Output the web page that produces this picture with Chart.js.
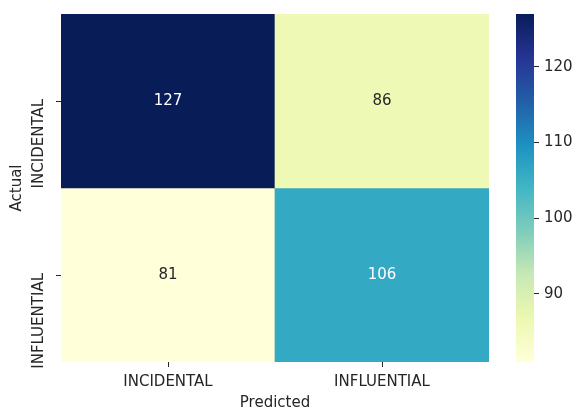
<!DOCTYPE html>
<html>
<head>
<meta charset="utf-8">
<script src="https://cdn.jsdelivr.net/npm/chart.js@4.4.1/dist/chart.umd.min.js"></script>
<style>
  html, body { margin: 0; padding: 0; background: #fff; }
  #wrap { position: relative; width: 576px; height: 412px; }
  #heat { position: absolute; left: 0; top: 0; width: 500px; height: 412px; }
  #bar { position: absolute; left: 500px; top: 0; width: 76px; height: 412px; }
</style>
</head>
<body>
<div id="wrap">
  <div id="heat"><canvas id="heatCanvas"></canvas></div>
  <div id="bar"><canvas id="barCanvas"></canvas></div>
</div>
<script>
const predictedLabels = ['INCIDENTAL', 'INFLUENTIAL'];
const actualLabels = ['INCIDENTAL', 'INFLUENTIAL'];
const countsIncidental = [127, 86];
const countsInfluential = [81, 106];
const colorbarTicks = [90, 100, 110, 120];

const counts = [countsIncidental, countsInfluential];
const vmin = Math.min(...counts.flat());
const vmax = Math.max(...counts.flat());

// YlGnBu
const cmap = ['#ffffd9', '#edf8b1', '#c7e9b4', '#7fcdbb', '#41b6c4', '#1d91c0', '#225ea8', '#253494', '#081d58'];

const hexToRgb = h => [1, 3, 5].map(i => parseInt(h.slice(i, i + 2), 16));

const colorRgb = v => {
    const t = Math.max(0, Math.min(1, (v - vmin) / (vmax - vmin))) * (cmap.length - 1);
    const i = Math.min(Math.floor(t), cmap.length - 2);
    const f = t - i;
    const a = hexToRgb(cmap[i]), b = hexToRgb(cmap[i + 1]);
    return a.map((c, k) => Math.round(c + (b[k] - c) * f));
};
const colorFor = v => `rgb(${colorRgb(v).join(',')})`;

const textColorFor = v => {
    const lum = colorRgb(v).map(c => {
        c /= 255;
        return c <= 0.03928 ? c / 12.92 : Math.pow((c + 0.055) / 1.055, 2.4);
    });
    const l = 0.2126 * lum[0] + 0.7152 * lum[1] + 0.0722 * lum[2];
    return l > 0.408 ? '#262626' : '#ffffff';
};

Chart.defaults.font.family = 'DejaVu Sans';
Chart.defaults.font.size = 15;
Chart.defaults.color = '#262626';

const cellLabels = {
    id: 'cellLabels',
    afterDatasetsDraw(chart) {
        const ctx = chart.ctx;
        ctx.save();
        ctx.font = '15px "DejaVu Sans"';
        ctx.textAlign = 'center';
        ctx.textBaseline = 'middle';
        chart.data.datasets.forEach((ds, i) => {
            chart.getDatasetMeta(i).data.forEach((bar, j) => {
                const p = bar.getCenterPoint();
                ctx.fillStyle = textColorFor(counts[i][j]);
                ctx.fillText(String(counts[i][j]), p.x, p.y);
            });
        });
        ctx.restore();
    }
};

// seaborn draws the row labels turned upright, hanging down from the tick
const rowLabels = {
    id: 'rowLabels',
    afterDraw(chart) {
        const y = chart.scales.y;
        const ctx = chart.ctx;
        ctx.save();
        ctx.font = '15px "DejaVu Sans"';
        ctx.fillStyle = '#262626';
        ctx.textAlign = 'right';
        ctx.textBaseline = 'middle';
        y.ticks.forEach((t, i) => {
            ctx.save();
            ctx.translate(y.right - 22, y.getPixelForValue(t.value) - 2);
            ctx.rotate(-Math.PI / 2);
            ctx.fillText(actualLabels[i], 0, 0);
            ctx.restore();
        });
        ctx.restore();
    }
};

new Chart(document.getElementById('heatCanvas'), {
    type: 'bar',
    data: {
        labels: predictedLabels,
        datasets: actualLabels.map((name, r) => ({
            label: name,
            data: predictedLabels.map(() => [r, r + 1]),
            backgroundColor: counts[r].map(colorFor),
            borderWidth: 0,
            grouped: false,
            barPercentage: 1,
            categoryPercentage: 1
        }))
    },
    options: {
        responsive: true,
        maintainAspectRatio: false,
        animation: false,
        events: [],
        layout: { padding: { top: 14, right: 11, left: 0, bottom: 0 } },
        plugins: { legend: { display: false }, tooltip: { enabled: false } },
        scales: {
            x: {
                grid: { offset: false, drawOnChartArea: false, tickLength: 5, color: '#262626' },
                border: { display: false },
                ticks: { padding: 6 },
                title: { display: true, text: 'Predicted', padding: { top: 0, bottom: 0 } },
                afterFit: s => { s.height = 50; }
            },
            y: {
                min: 0,
                max: actualLabels.length,
                reverse: true,
                afterBuildTicks: s => { s.ticks = actualLabels.map((_, i) => ({ value: i + 0.5 })); },
                grid: { drawOnChartArea: false, tickLength: 5, color: '#262626' },
                border: { display: false },
                ticks: { display: false },
                title: { display: true, text: 'Actual', padding: { top: 8, bottom: 0 } },
                afterFit: s => { s.width = 61; }
            }
        }
    },
    plugins: [cellLabels, rowLabels]
});

new Chart(document.getElementById('barCanvas'), {
    type: 'bar',
    data: {
        labels: [''],
        datasets: [{
            data: [[vmin, vmax]],
            backgroundColor: ctx => {
                const chart = ctx.chart;
                if (!chart.chartArea) return cmap[0];
                const y = chart.scales.y;
                const g = chart.ctx.createLinearGradient(0, y.getPixelForValue(vmin), 0, y.getPixelForValue(vmax));
                cmap.forEach((c, i) => g.addColorStop(i / (cmap.length - 1), c));
                return g;
            },
            borderWidth: 0,
            barPercentage: 1,
            categoryPercentage: 1
        }]
    },
    options: {
        responsive: true,
        maintainAspectRatio: false,
        animation: false,
        events: [],
        layout: { padding: { top: 14, left: 16, right: 0, bottom: 50 } },
        plugins: { legend: { display: false }, tooltip: { enabled: false } },
        scales: {
            x: { display: false },
            y: {
                position: 'right',
                min: vmin,
                max: vmax,
                afterBuildTicks: s => { s.ticks = colorbarTicks.map(v => ({ value: v })); },
                grid: { drawOnChartArea: false, tickLength: 5, color: '#262626' },
                border: { display: false },
                ticks: { padding: 5 },
                afterFit: s => { s.width = 42; }
            }
        }
    }
});
</script>
</body>
</html>
